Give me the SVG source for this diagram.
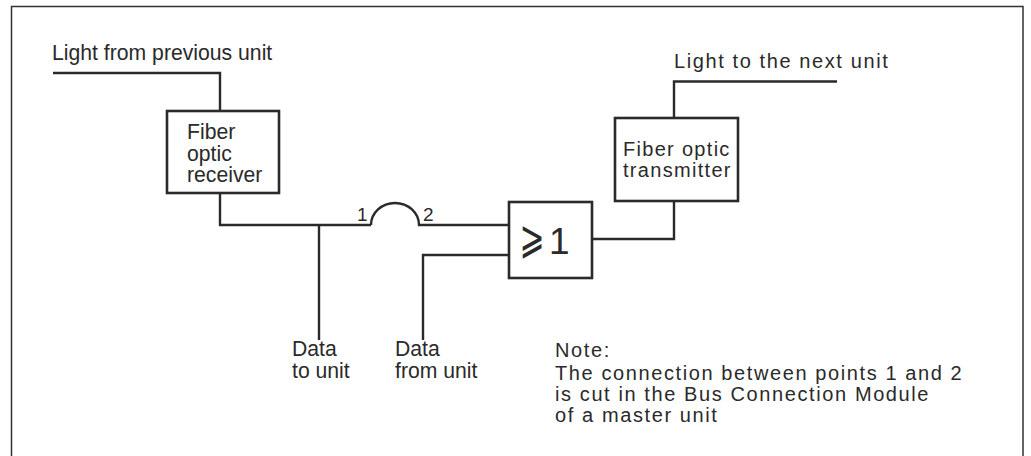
<svg xmlns="http://www.w3.org/2000/svg" width="1031" height="456" viewBox="0 0 1031 456">
<style>
text{font-family:"Liberation Sans",Arial,sans-serif;font-size:21.2px;fill:#2a2a2a}
.s{font-size:20px;letter-spacing:1.6px}
.l{fill:none;stroke:#2a2a2a;stroke-width:2.4}
.b{fill:#fff;stroke:#2a2a2a;stroke-width:2.6}
</style>
<rect width="1031" height="456" fill="#fff"/>
<path d="M11.500 456V6.500H1023V456" fill="none" stroke="#333" stroke-width="1.500"/>
<g id="connectors">
<path class="l" d="M53 73H220V111"/>
<path class="l" d="M220 193V225H371"/>
<path class="l" d="M371 225A24 22 0 0 1 419 225H509"/>
<path class="l" d="M319 225V340"/>
<path class="l" d="M423 340V255H509"/>
<path class="l" d="M592 239H674V201"/>
<path class="l" d="M674 118V81.500H837"/>
</g>
<g id="receiver"><rect class="b" x="167" y="111" width="112" height="82"/><text x="187" y="139">Fiber</text><text x="187" y="161">optic</text><text x="187" y="182">receiver</text></g>
<g id="transmitter"><rect class="b" x="615" y="118" width="123" height="83"/><text class="s" x="623" y="156" style="letter-spacing:1.300px">Fiber optic</text><text class="s" x="623" y="177" style="letter-spacing:1.300px">transmitter</text></g>
<g id="or-gate"><rect class="b" x="509" y="202" width="83" height="76"/><text transform="translate(519.400 252.600) scale(.88 1.360)" style="font-family:'DejaVu Sans',sans-serif;font-size:34px">⩾</text><text x="549" y="254" style="font-size:37px">1</text></g>
<g id="labels">
<text x="52" y="60">Light from previous unit</text>
<text class="s" x="674" y="68">Light to the next unit</text>
<text x="357" y="221" style="font-size:19px">1</text><text x="423" y="221" style="font-size:19px">2</text>
<text x="292" y="356">Data</text><text x="292" y="378">to unit</text>
<text x="395" y="356">Data</text><text x="395" y="378">from unit</text>
<text class="s" x="555" y="357">Note:</text>
<text class="s" x="555" y="380">The connection between points 1 and 2</text>
<text class="s" x="555" y="401">is cut in the Bus Connection Module</text>
<text class="s" x="555" y="422">of a master unit</text>
</g>
</svg>
